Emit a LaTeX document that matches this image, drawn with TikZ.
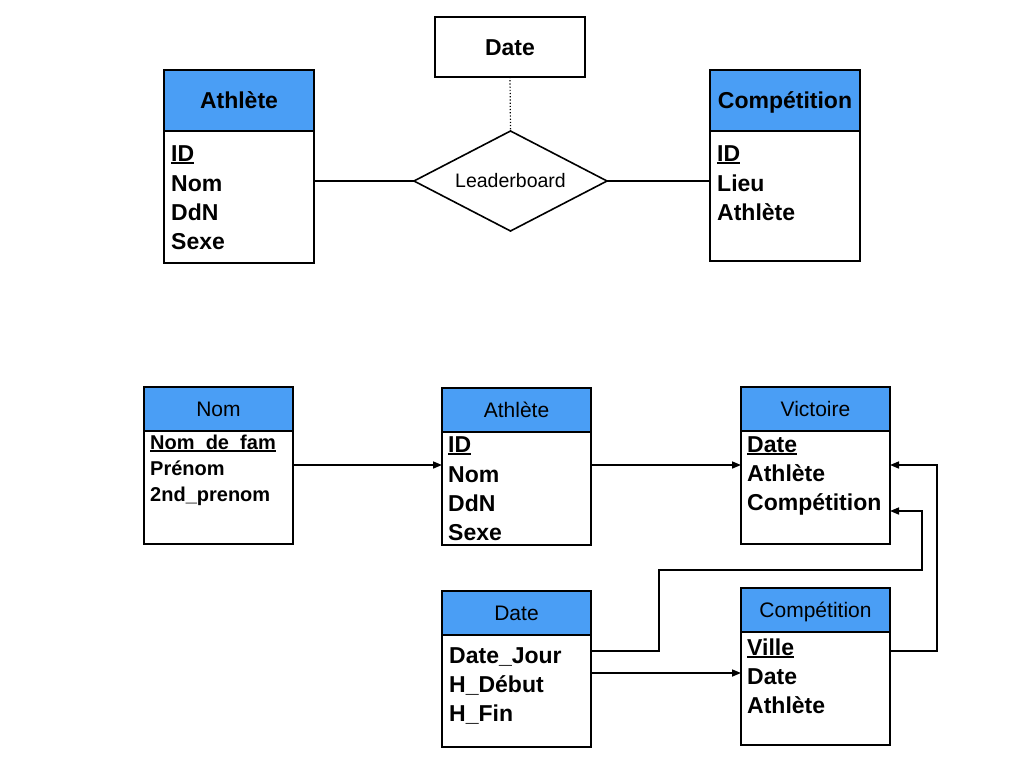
\documentclass[tikz,border=0pt]{standalone}
\usepackage{fontspec}
\setmainfont{Liberation Sans}
\usetikzlibrary{shapes.geometric,arrows.meta}
\definecolor{hblue}{RGB}{74,158,245}
\newcommand\myul[1]{\setbox0\hbox{#1}\rlap{\rule[-3pt]{\wd0}{1.8pt}}\box0}
\begin{document}
\begin{tikzpicture}[x=1pt,y=-1pt,
  box/.style={draw=black,line width=2pt,inner sep=0pt,outer sep=0pt,anchor=north west},
  hbox/.style={box,fill=hblue},
  attr/.style={inner sep=0pt,anchor=base west,font={\fontsize{23}{27}\selectfont\bfseries}},
  sattr/.style={inner sep=0pt,anchor=base west,font={\fontsize{20}{24}\selectfont\bfseries}},
  htitle/.style={inner sep=0pt,anchor=base,font={\fontsize{23}{27}\selectfont\bfseries}},
  stitle/.style={inner sep=0pt,anchor=base,font={\fontsize{21}{25}\selectfont}},
  conn/.style={draw=black,line width=1.6pt},
  arr/.style={conn,-{Triangle[length=9pt,width=7pt]}}
]
\fill[white] (0,0) rectangle (1024,768);
\useasboundingbox (0,0) rectangle (1024,768);

% ---------- top diagram ----------
\node[box,minimum width=150pt,minimum height=60pt] (dateT) at (435,17) {};
\node[htitle] (dateTt) at (510,56) {Date};

\node[hbox,minimum width=150pt,minimum height=61pt] (athTH) at (164,70) {};
\node[box,minimum width=150pt,minimum height=132pt] (athTB) at (164,131) {};
\node[htitle] (athTt) at (239,108) {Athlète};
\node[attr] (athT1) at (171,161) {\myul{ID}};
\node[attr] (athT2) at (171,191) {Nom};
\node[attr] (athT3) at (171,220) {DdN};
\node[attr] (athT4) at (171,249) {Sexe};

\node[hbox,minimum width=150pt,minimum height=61pt] (cmpTH) at (710,70) {};
\node[box,minimum width=150pt,minimum height=130pt] (cmpTB) at (710,131) {};
\node[htitle] (cmpTt) at (785,108) {Compétition};
\node[attr] (cmpT1) at (717,161) {\myul{ID}};
\node[attr] (cmpT2) at (717,191) {Lieu};
\node[attr] (cmpT3) at (717,220) {Athlète};

\node[diamond,aspect=2,draw=black,line width=1.6pt,inner sep=0pt,outer sep=0pt,
  minimum width=193pt,minimum height=100pt,
  font={\fontsize{19.5}{23}\selectfont}] (lb) at (510.5,181) {Leaderboard};

\draw[conn] (athTB.east |- lb.west) -- (lb.west);
\draw[conn] (lb.east) -- (cmpTB.west |- lb.east);
\draw[black,line width=1.2pt,dotted] (dateT.south) -- (lb.north);

% ---------- bottom diagram ----------
\node[hbox,minimum width=149pt,minimum height=44pt] (nomH) at (144,387) {};
\node[box,minimum width=149pt,minimum height=113pt] (nomB) at (144,431) {};
\node[stitle] (nomt) at (218.5,416.5) {Nom};
\node[sattr] (nom1) at (150,449) {\myul{Nom\_de\_fam}};
\node[sattr] (nom2) at (150,475) {Prénom};
\node[sattr] (nom3) at (150,501) {2nd\_prenom};

\node[hbox,minimum width=149pt,minimum height=44pt] (athH) at (442,388) {};
\node[box,minimum width=149pt,minimum height=113pt] (athB) at (442,432) {};
\node[stitle] (atht) at (516.5,417.5) {Athlète};
\node[attr] (ath1) at (448,452) {\myul{ID}};
\node[attr] (ath2) at (448,482) {Nom};
\node[attr] (ath3) at (448,511) {DdN};
\node[attr] (ath4) at (448,540) {Sexe};

\node[hbox,minimum width=149pt,minimum height=44pt] (vicH) at (741,387) {};
\node[box,minimum width=149pt,minimum height=113pt] (vicB) at (741,431) {};
\node[stitle] (vict) at (815.5,416.5) {Victoire};
\node[attr] (vic1) at (747,452) {\myul{Date}};
\node[attr] (vic2) at (747,481) {Athlète};
\node[attr] (vic3) at (747,510) {Compétition};

\node[hbox,minimum width=149pt,minimum height=44pt] (datH) at (442,591) {};
\node[box,minimum width=149pt,minimum height=112pt] (datB) at (442,635) {};
\node[stitle] (datt) at (516.5,620.5) {Date};
\node[attr] (dat1) at (449,663) {Date\_Jour};
\node[attr] (dat2) at (449,692) {H\_Début};
\node[attr] (dat3) at (449,721) {H\_Fin};

\node[hbox,minimum width=149pt,minimum height=44pt] (cmpH) at (741,588) {};
\node[box,minimum width=149pt,minimum height=113pt] (cmpB) at (741,632) {};
\node[stitle] (cmpt) at (815.5,617.5) {Compétition};
\node[attr] (cmp1) at (747,655) {\myul{Ville}};
\node[attr] (cmp2) at (747,684) {Date};
\node[attr] (cmp3) at (747,713) {Athlète};

% connector helper coordinates
\coordinate (y465) at (0,465);
\coordinate (y651) at (0,651);
\coordinate (y673) at (0,673);
\coordinate (k1) at (659,570);
\coordinate (k2) at (922,511);
\coordinate (k3) at (937,465);

\draw[arr] (nomB.east |- y465) -- (athB.west |- y465);
\draw[arr] (athB.east |- y465) -- (vicB.west |- y465);
\draw[arr] (datB.east |- y651) -| (k1) -| (k2) -- (vicB.east |- k2);
\draw[arr] (datB.east |- y673) -- (cmpB.west |- y673);
\draw[arr] (cmpB.east |- y651) -| (k3) -- (vicB.east |- k3);
\end{tikzpicture}
\end{document}
